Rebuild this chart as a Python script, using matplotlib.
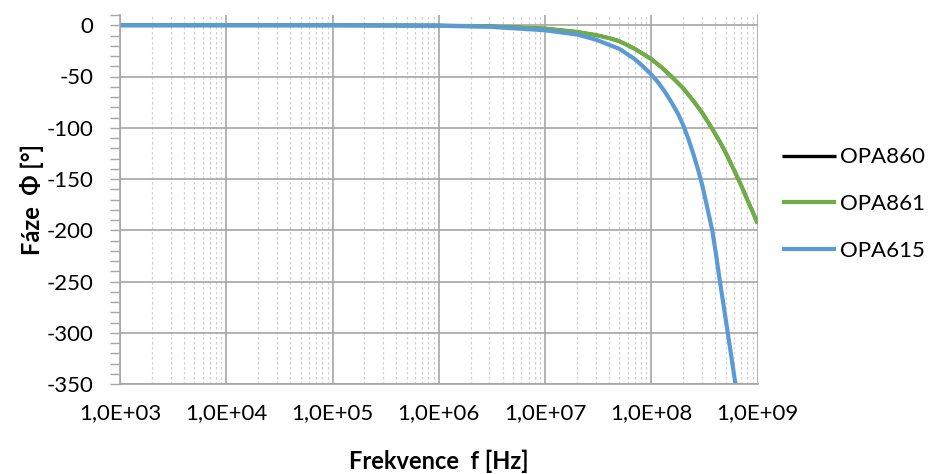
import math
import matplotlib
matplotlib.use("Agg")
import matplotlib.pyplot as plt
from matplotlib.ticker import FixedLocator, MultipleLocator, FuncFormatter, NullFormatter

plt.rcParams['font.family'] = ['Lato', 'DejaVu Sans']
plt.rcParams['axes.unicode_minus'] = False

# Phase response of the three amplifiers
freq_861 = [1e3, 1e4, 1e5, 1e6, 3e6, 1e7, 2e7, 3e7, 4e7, 5e7, 7e7, 1e8, 1.25e8, 1.55e8,
            2e8, 2.5e8, 3e8, 3.5e8, 4e8, 4.44e8, 5e8, 6e8, 7e8, 8e8, 9e8, 1e9]
phase_861 = [0.0, -0.003, -0.03, -0.3, -1.0, -3.2, -6.5, -9.5, -12.5, -15.5, -23.0, -33.0,
             -41.0, -50.0, -61.5, -74.0, -85.0, -96.0, -106.0, -114.0, -124.0,
             -141.0, -156.0, -170.0, -182.0, -193.0]

# OPA860 coincides with OPA861
freq_860 = freq_861
phase_860 = phase_861

freq_615 = [1e3, 1e4, 1e5, 1e6, 3e6, 1e7, 2e7, 3e7, 5e7, 7e7, 8.64e7, 1e8, 1.155e8,
            1.337e8, 1.546e8, 1.79e8, 2e8, 2.22e8, 2.48e8, 2.77e8, 3e8, 3.32e8,
            3.75e8, 4.05e8, 4.4e8, 5.25e8, 6.2e8]
phase_615 = [0.0, -0.005, -0.05, -0.5, -1.5, -4.9, -9.0, -14.0, -23.0, -33.0, -41.5,
             -48.0, -55.5, -64.5, -75.0, -86.5, -97.5, -110.0, -125.0, -141.5, -155.0,
             -175.0, -200.0, -222.0, -248.0, -300.0, -350.0]

decades = [1e3, 1e4, 1e5, 1e6, 1e7, 1e8, 1e9]
series_names = ["OPA860", "OPA861", "OPA615"]
series_colors = ["#000000", "#70AD47", "#5B9BD5"]

fig = plt.figure(figsize=(9.33, 4.74), dpi=100)
ax = fig.add_axes([120 / 933, 1 - 384 / 474, (757.5 - 120) / 933, (384 - 15) / 474])

ax.plot(freq_860, phase_860, color=series_colors[0], lw=2.4, label=series_names[0], solid_capstyle='butt')
ax.plot(freq_861, phase_861, color=series_colors[1], lw=3.0, label=series_names[1], solid_capstyle='butt')
ax.plot(freq_615, phase_615, color=series_colors[2], lw=3.0, label=series_names[2], solid_capstyle='butt')

ax.set_xscale('log')
ax.set_xlim(decades[0], decades[-1])
ax.set_ylim(-350, 10)

# x axis: decades labelled in Czech number format
minor_x = [d * k for d in decades[:-1] for k in range(2, 10)]
ax.xaxis.set_major_locator(FixedLocator(decades))
ax.xaxis.set_minor_locator(FixedLocator(minor_x))
ax.xaxis.set_major_formatter(FuncFormatter(lambda v, p: "1,0E+%02d" % round(math.log10(v))))
ax.xaxis.set_minor_formatter(NullFormatter())
ax.tick_params(axis='x', which='both', length=0, pad=14, labelsize=16)

# y axis
ax.yaxis.set_major_locator(FixedLocator(list(range(-350, 1, 50))))
ax.yaxis.set_minor_locator(MultipleLocator(10))
ax.tick_params(axis='y', which='major', length=7, width=1, color='#a6a6a6', pad=12, labelsize=16)
ax.tick_params(axis='y', which='minor', length=7, width=1, color='#a6a6a6')

ax.grid(True, which='major', axis='both', color='#a6a6a6', lw=1.2)
ax.grid(True, which='minor', axis='x', color='#d0d0d0', lw=0.9, linestyle=(0, (2, 2)))
ax.set_axisbelow(True)

for s in ['top', 'right']:
    ax.spines[s].set_visible(False)
for s in ['left', 'bottom']:
    ax.spines[s].set_color('#a6a6a6')
    ax.spines[s].set_linewidth(1.2)

ax.set_xlabel("Frekvence  f [Hz]", fontsize=17, fontweight='bold', labelpad=19)
ax.set_ylabel("Fáze  Φ [°]", fontsize=17, fontweight='bold', labelpad=2)

fig.legend(loc='center left', bbox_to_anchor=(782 / 933, 1 - 204 / 474), frameon=False,
           fontsize=16, handlelength=2.45, handletextpad=0.15, labelspacing=1.2,
           borderpad=0, borderaxespad=0)

fig.savefig("out.png", dpi=100)
